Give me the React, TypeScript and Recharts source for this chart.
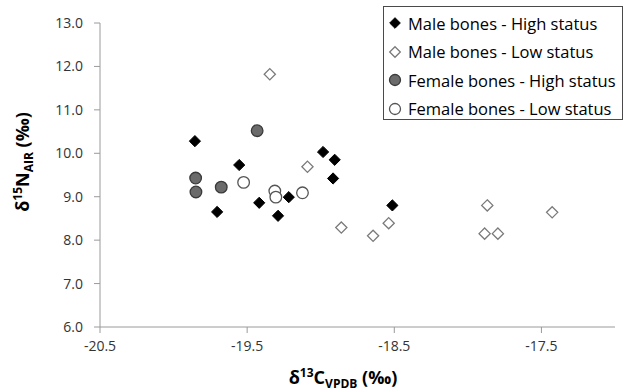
import React from 'react';
import { ScatterChart, Scatter, XAxis, YAxis, Legend } from 'recharts';

const maleHighC = [-19.855, -19.554, -18.984, -18.905, -18.916, -19.418, -19.217, -19.704, -19.29, -18.513];
const maleHighN = [10.28, 9.73, 10.03, 9.85, 9.42, 8.86, 8.99, 8.65, 8.56, 8.8];
const maleLowC = [-19.346, -19.09, -18.86, -18.538, -18.644, -17.868, -17.886, -17.796, -17.427];
const maleLowN = [11.82, 9.69, 8.29, 8.39, 8.1, 8.8, 8.15, 8.15, 8.64];
const femaleHighC = [-19.432, -19.85, -19.848, -19.676];
const femaleHighN = [10.52, 9.43, 9.11, 9.22];
const femaleLowC = [-19.524, -19.312, -19.305, -19.124];
const femaleLowN = [9.33, 9.13, 8.99, 9.09];

const xTicks = [-20.5, -19.5, -18.5, -17.5];
const yTicks = [6, 7, 8, 9, 10, 11, 12, 13];

const seriesNames = [
  'Male bones - High status',
  'Male bones - Low status',
  'Female bones - High status',
  'Female bones - Low status',
];

const zip = (xs: number[], ys: number[]) => xs.map((x, i) => ({ x, y: ys[i] }));

const maleHigh = zip(maleHighC, maleHighN);
const maleLow = zip(maleLowC, maleLowN);
const femaleHigh = zip(femaleHighC, femaleHighN);
const femaleLow = zip(femaleLowC, femaleLowN);

const FONT = '"Open Sans", sans-serif';

const styles = [
  { kind: 'diamond', fill: '#000', stroke: '#000', sw: 1 },
  { kind: 'diamond', fill: '#fff', stroke: '#7a7a7a', sw: 1.3 },
  { kind: 'circle', fill: '#6b6b6b', stroke: '#3a3a3a', sw: 1.3 },
  { kind: 'circle', fill: '#fff', stroke: '#555', sw: 1.3 },
];

const Marker = ({ cx, cy, idx, s = 1 }: any) => {
  const st = styles[idx];
  if (st.kind === 'diamond') {
    const h = 5.6 * s;
    return (
      <path
        d={`M${cx},${cy - h}L${cx + h},${cy}L${cx},${cy + h}L${cx - h},${cy}Z`}
        fill={st.fill}
        stroke={st.stroke}
        strokeWidth={st.sw}
      />
    );
  }
  return <circle cx={cx} cy={cy} r={5.8 * s} fill={st.fill} stroke={st.stroke} strokeWidth={st.sw} />;
};

const LegendBox = () => (
  <div
    style={{
      border: '1.5px solid #4a4a4a',
      background: '#fff',
      width: 240,
      height: 114,
      boxSizing: 'border-box',
      paddingTop: 2,
    }}
  >
    {seriesNames.map((n, i) => (
      <div key={n} style={{ display: 'flex', alignItems: 'center', height: 28.5 }}>
        <svg width={24} height={20} style={{ flex: 'none' }}>
          <Marker cx={11} cy={10} idx={i} s={0.95} />
        </svg>
        <span style={{ fontFamily: FONT, fontSize: 16.5, color: '#000', whiteSpace: 'nowrap' }}>{n}</span>
      </div>
    ))}
  </div>
);

const XTitle = () => (
  <text x={343} y={384} textAnchor="middle" fontFamily={FONT} fontWeight="bold" fontSize={18} fill="#000">
    δ<tspan fontSize={12} dy={-7}>13</tspan>
    <tspan dy={7}>C</tspan>
    <tspan fontSize={12} dy={4}>VPDB</tspan>
    <tspan dy={-4}> (‰)</tspan>
  </text>
);

const YTitle = () => (
  <text
    x={0}
    y={0}
    transform="translate(29,162) rotate(-90)"
    textAnchor="middle"
    fontFamily={FONT}
    fontWeight="bold"
    fontSize={18}
    fill="#000"
  >
    δ<tspan fontSize={12} dy={-7}>15</tspan>
    <tspan dy={7}>N</tspan>
    <tspan fontSize={12} dy={4}>AIR</tspan>
    <tspan dy={-4}> (‰)</tspan>
  </text>
);

export default function App() {
  return (
    <div style={{ position: 'absolute', left: 0, top: 0 }}>
      <ScatterChart width={629} height={392} margin={{ top: 23, right: 14, bottom: 0, left: 0 }}>
        <XAxis
          type="number"
          dataKey="x"
          domain={[-20.5, -17]}
          ticks={xTicks}
          tickFormatter={(v: number) => v.toFixed(1)}
          height={65}
          stroke="#9a9a9a"
          tickSize={6}
          tickMargin={8}
          tick={{ fill: '#333', fontFamily: FONT, fontSize: 14 }}
          label={<XTitle />}
          allowDataOverflow
        />
        <YAxis
          type="number"
          dataKey="y"
          domain={[6, 13]}
          ticks={yTicks}
          tickFormatter={(v: number) => v.toFixed(1)}
          width={100}
          stroke="#9a9a9a"
          tickSize={6}
          tickMargin={11}
          tick={{ fill: '#333', fontFamily: FONT, fontSize: 14 }}
          label={<YTitle />}
          allowDataOverflow
        />
        <Legend
          content={<LegendBox />}
          wrapperStyle={{ position: 'absolute', left: 383, top: 6, width: 240, height: 0, overflow: 'visible' }}
        />
        <Scatter name={seriesNames[1]} data={maleLow} isAnimationActive={false} shape={(p: any) => <Marker cx={p.cx} cy={p.cy} idx={1} />} />
        <Scatter name={seriesNames[3]} data={femaleLow} isAnimationActive={false} shape={(p: any) => <Marker cx={p.cx} cy={p.cy} idx={3} />} />
        <Scatter name={seriesNames[2]} data={femaleHigh} isAnimationActive={false} shape={(p: any) => <Marker cx={p.cx} cy={p.cy} idx={2} />} />
        <Scatter name={seriesNames[0]} data={maleHigh} isAnimationActive={false} shape={(p: any) => <Marker cx={p.cx} cy={p.cy} idx={0} />} />
      </ScatterChart>
    </div>
  );
}
